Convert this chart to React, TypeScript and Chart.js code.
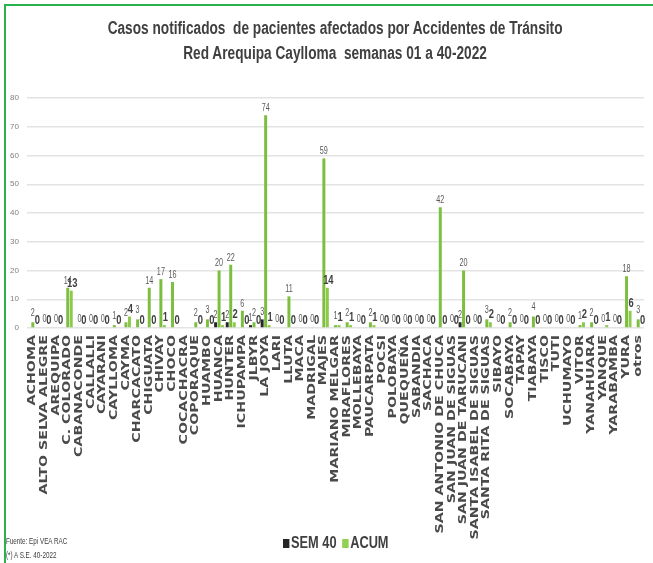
import React, { useEffect, useRef } from "react";
import { Chart, registerables } from "chart.js";

Chart.register(...registerables);

const categories = [
  "ACHOMA", "ALTO SELVA ALEGRE", "AREQUIPA", "C. COLORADO", "CABANACONDE", "CALLALLI",
  "CAYARANI", "CAYLLOMA", "CAYMA", "CHARCACATO", "CHIGUATA", "CHIVAY", "CHOCO",
  "COCACHACRA", "COPORAQUE", "HUAMBO", "HUANCA", "HUNTER", "ICHUPAMPA", "JLBYR",
  "LA JOYA", "LARI", "LLUTA", "MACA", "MADRIGAL", "MAJES", "MARIANO MELGAR",
  "MIRAFLORES", "MOLLEBAYA", "PAUCARPATA", "POCSI", "POLOBAYA", "QUEQUEÑA",
  "SABANDIA", "SACHACA", "SAN ANTONIO DE CHUCA", "SAN JUAN DE SIGUAS",
  "SAN JUAN DE TARUCANI", "SANTA ISABEL DE SIGUAS", "SANTA RITA DE SIGUAS", "SIBAYO",
  "SOCABAYA", "TAPAY", "TIABAYA", "TISCO", "TUTI", "UCHUMAYO", "VITOR", "YANAHUARA",
  "YANQUE", "YARABAMBA", "YURA", "otros",
];

const sem40 = [
  0, 0, 0, 0, 0, 0, 0, 0, 0, 0, 0, 0, 0, null, 0, 0, 2, 2, 0, 1, 3, 0, 0, 0, 0, 0, 0,
  0, 0, 0, 0, 0, 0, 0, 0, 0, 0, 2, 0, 0, 0, 0, 0, 0, 0, 0, 0, 0, 0, 0, 0, 0, 0,
];

const acum = [
  2, 0, 0, 14, 0, 0, 0, 1, 2, 3, 14, 17, 16, null, 2, 3, 20, 22, 6, 2, 74, 0, 11, 0, 0, 59, 1,
  2, 0, 2, 0, 0, 0, 0, 0, 42, 0, 20, 0, 3, 0, 2, 0, 4, 0, 0, 0, 1, 2, 0, 0, 18, 3,
];

const acumB = [
  0, 0, 0, 13, 0, 0, 0, 0, 4, 0, 0, 1, 0, null, 0, 0, 1, 2, 0, 0, 1, 0, 0, 0, 0, 14, 1,
  1, 0, 1, 0, 0, 0, 0, 0, 0, 0, 0, 0, 2, 0, 0, 0, 0, 0, 0, 0, 2, 0, 1, 0, 6, 0,
];

const yMin = 0;
const yMax = 80;
const yStep = 10;

const titleLines = [
  "Casos notificados  de pacientes afectados por Accidentes de Tránsito",
  "Red Arequipa Caylloma  semanas 01 a 40-2022",
];
const legendItems = [
  { label: "SEM 40", color: "#262626" },
  { label: "ACUM", color: "#92D050" },
];
const notes = ["Fuente: Epi VEA RAC", "(*) A S.E. 40-2022"];

const ARIAL = "'Liberation Sans', Arial, sans-serif";
const WIDE = "'DejaVu Sans', Verdana, sans-serif";

const valueLabels = {
  id: "valueLabels",
  afterDatasetsDraw(chart: any) {
    const ctx = chart.ctx;
    chart.data.datasets.forEach((ds: any, di: number) => {
      const meta = chart.getDatasetMeta(di);
      meta.data.forEach((bar: any, i: number) => {
        const v = ds.data[i];
        if (v === null || v === undefined) return;
        if (di === 0 && v === 0) return;
        ctx.save();
        ctx.textAlign = "center";
        ctx.textBaseline = "bottom";
        if (di === 2) {
          ctx.font = `bold 13px ${ARIAL}`;
          ctx.fillStyle = "#404040";
          ctx.translate(bar.x + 1, bar.y - 1);
        } else {
          ctx.font = `10px ${ARIAL}`;
          ctx.fillStyle = "#595959";
          ctx.translate(bar.x, bar.y - (di === 1 && v < 5 ? 4 : 2));
        }
        ctx.scale(0.72, 1);
        ctx.fillText(String(v), 0, 0);
        ctx.restore();
      });
    });
  },
};

const xLabels = {
  id: "xLabels",
  afterDraw(chart: any) {
    const ctx = chart.ctx;
    const scale = chart.scales.x;
    const top = chart.chartArea.bottom + 7;
    chart.data.labels.forEach((lab: string, i: number) => {
      const x = scale.getPixelForTick(i);
      ctx.save();
      ctx.translate(x, top);
      ctx.rotate(-Math.PI / 2);
      ctx.scale(1.42, 1);
      ctx.font = `bold 10px ${WIDE}`;
      ctx.fillStyle = "#4a4a4a";
      ctx.textAlign = "right";
      ctx.textBaseline = "middle";
      ctx.fillText(lab, 0, 0);
      ctx.restore();
    });
  },
};

export default function App() {
  const ref = useRef<HTMLCanvasElement | null>(null);

  useEffect(() => {
    document.body.style.margin = "0";
    const canvas = ref.current!;
    const chart = new Chart(canvas, {
      type: "bar",
      data: {
        labels: categories,
        datasets: [
          { label: "SEM 40", data: sem40, backgroundColor: "#262626" },
          { label: "ACUM", data: acum, backgroundColor: "#7CBF3F" },
          { label: "ACUM*", data: acumB, backgroundColor: "#8DC94B" },
        ],
      },
      options: {
        responsive: false,
        animation: false,
        layout: { padding: { left: 0, right: 9, top: 98, bottom: 0 } },
        datasets: { bar: { categoryPercentage: 0.9, barPercentage: 0.85 } },
        plugins: {
          legend: { display: false },
          title: { display: false },
          tooltip: { enabled: false },
        },
        scales: {
          x: {
            grid: { display: false },
            border: { display: false },
            afterFit: (scale: any) => {
              scale.height = 235;
            },
            ticks: { display: false, autoSkip: false },
          },
          y: {
            min: yMin,
            max: yMax,
            afterFit: (scale: any) => {
              scale.width = 27;
            },
            border: { display: false },
            grid: { color: "#e3e3e3", lineWidth: 1.5, drawTicks: false },
            ticks: {
              stepSize: yStep,
              padding: 8,
              color: "#808080",
              font: { family: ARIAL, size: 8 },
            },
          },
        },
      },
      plugins: [valueLabels, xLabels],
    });
    return () => chart.destroy();
  }, []);

  return (
    <div style={{ position: "relative", width: 653, height: 563, background: "#fff", overflow: "hidden" }}>
      <canvas ref={ref} width={653} height={563} style={{ position: "absolute", left: 0, top: 0 }} />
      <div style={{ position: "absolute", left: 4, top: 4, width: 660, height: 600, borderLeft: "2px solid #2AB24E", borderTop: "2px solid #2AB24E", pointerEvents: "none" }} />
      <div
        style={{
          position: "absolute",
          left: 7,
          top: 16,
          width: 653,
          textAlign: "center",
          fontFamily: ARIAL,
          fontWeight: "bold",
          fontSize: 18,
          lineHeight: "25px",
          color: "#404040",
          transform: "scaleX(0.76)",
          transformOrigin: "333px 0",
        }}
      >
        {titleLines.map((t) => (
          <div key={t} style={{ whiteSpace: "pre" }}>{t}</div>
        ))}
      </div>
      <div
        style={{
          position: "absolute",
          left: 283,
          top: 534,
          display: "flex",
          gap: 7,
          fontFamily: ARIAL,
          fontWeight: "bold",
          fontSize: 16,
          color: "#404040",
          alignItems: "center",
          transform: "scaleX(0.8)",
          transformOrigin: "0 0",
        }}
      >
        {legendItems.map((it) => (
          <div key={it.label} style={{ display: "flex", alignItems: "center", gap: 2 }}>
            <span style={{ display: "inline-block", width: 8, height: 9, background: it.color }} />
            <span>{it.label}</span>
          </div>
        ))}
      </div>
      <div
        style={{
          position: "absolute",
          left: 6,
          top: 534,
          fontFamily: ARIAL,
          fontSize: 9,
          lineHeight: "14px",
          color: "#404040",
          transform: "scaleX(0.7)",
          transformOrigin: "0 0",
        }}
      >
        {notes.map((n) => (
          <div key={n}>{n}</div>
        ))}
      </div>
    </div>
  );
}
